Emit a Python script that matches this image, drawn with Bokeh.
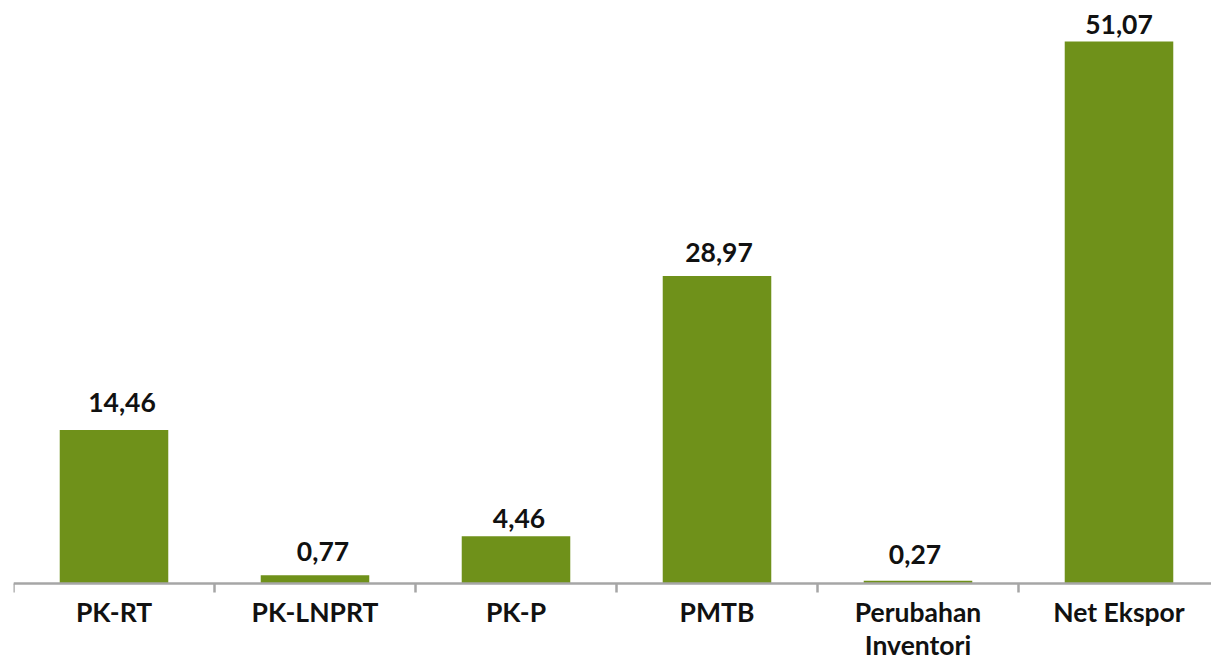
import numpy as np
from bokeh.plotting import figure
from bokeh.models import ColumnDataSource, FixedTicker, LinearAxis, Range1d
from bokeh.core.properties import value
from bokeh.embed import file_html
from bokeh.resources import INLINE

categories = ["PK-RT", "PK-LNPRT", "PK-P", "PMTB", "Perubahan\nInventori", "Net Ekspor"]
values = [14.46, 0.77, 4.46, 28.97, 0.27, 51.07]
labels = ["14,46", "0,77", "4,46", "28,97", "0,27", "51,07"]
# pixel nudges of the value labels (style only)
label_dx = [8, 8, 3, 2, -3, 0]
label_dy = [-28, -24, -18, -24, -26, -17]

x = np.arange(len(categories)) + 0.5
src = ColumnDataSource(dict(x=x, top=values, label=labels, dx=label_dx, dy=label_dy))

H = 664
px_per_unit = 542 / 51.07
y_top = 583 / px_per_unit
y_bot = -(H - 583) / px_per_unit

p = figure(width=1211, height=H, output_backend="svg", toolbar_location=None,
           x_range=Range1d(0, 1198 / 201), y_range=Range1d(y_bot, y_top),
           min_border_left=13, min_border_right=0, min_border_top=0, min_border_bottom=0)
p.outline_line_color = None
p.xgrid.visible = False
p.ygrid.visible = False
p.xaxis.visible = False
p.yaxis.visible = False
p.background_fill_color = "white"

p.vbar(x="x", top="top", bottom=0, width=0.54, source=src, fill_color="#6f911a", line_color=None)
p.text(x="x", y="top", text="label", x_offset="dx", y_offset="dy", source=src,
       text_font=value("Lato"), text_font_style="bold", text_font_size="26.5px",
       text_color="#111111", text_align="center", text_baseline="alphabetic")

ax = LinearAxis(ticker=FixedTicker(ticks=list(x), minor_ticks=list(range(len(categories) + 1))),
                fixed_location=0)
ax.major_label_overrides = {float(xi): c for xi, c in zip(x, categories)}
ax.axis_line_color = "#a6a6a6"
ax.axis_line_width = 2.5
ax.major_tick_line_color = None
ax.major_tick_out = 0
ax.major_tick_in = 0
ax.minor_tick_line_color = "#a6a6a6"
ax.minor_tick_line_width = 2.5
ax.minor_tick_out = 9
ax.minor_tick_in = 0
ax.major_label_standoff = 3
ax.major_label_text_font = "Lato"
ax.major_label_text_font_style = "bold"
ax.major_label_text_font_size = "26.5px"
ax.major_label_text_line_height = 1.05
ax.major_label_text_color = "#111111"
p.add_layout(ax, "below")

open("out.html", "w").write(file_html(p, INLINE))
